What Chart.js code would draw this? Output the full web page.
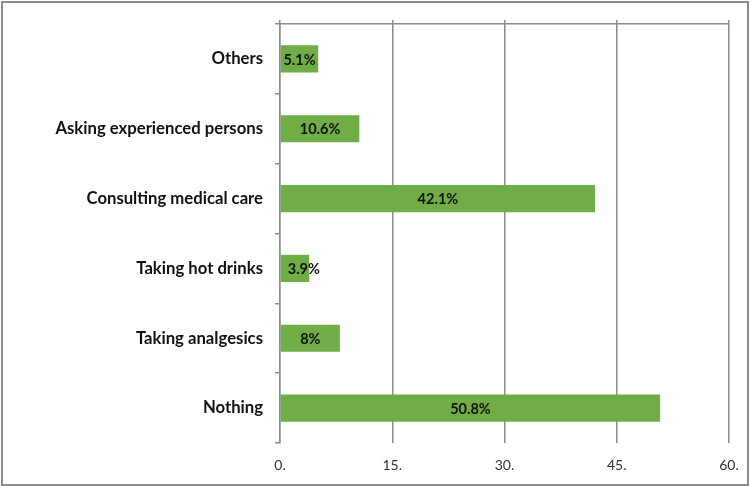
<!DOCTYPE html>
<html>
<head>
<meta charset="utf-8">
<script src="https://cdn.jsdelivr.net/npm/chart.js@4/dist/chart.umd.min.js"></script>
<style>
  html, body { margin: 0; padding: 0; background: #fff; }
  #wrap { position: relative; width: 750px; height: 486px; }
  #frame { position: absolute; left: 1px; top: 1px; width: 748px; height: 485px; box-sizing: border-box; border: 2px solid #8c8c8c; pointer-events: none; }
  canvas { position: absolute; left: 0; top: 0; }
</style>
</head>
<body>
<div id="wrap">
  <canvas id="c" width="750" height="486"></canvas>
  <div id="frame"></div>
</div>
<script>
const categories = ["Others", "Asking experienced persons", "Consulting medical care", "Taking hot drinks", "Taking analgesics", "Nothing"];
const values = [5.1, 10.6, 42.1, 3.9, 8, 50.8];
const valueLabels = ["5.1%", "10.6%", "42.1%", "3.9%", "8%", "50.8%"];
const xTicks = [0, 15, 30, 45, 60];

const GRID = '#8c8c8c';
const FONT = 'Lato, "Open Sans", sans-serif';

const barLabels = {
  id: 'barLabels',
  afterDatasetsDraw(chart) {
    const ctx = chart.ctx;
    const meta = chart.getDatasetMeta(0);
    ctx.save();
    ctx.font = 'bold 14.5px ' + FONT;
    ctx.fillStyle = '#111';
    ctx.textBaseline = 'middle';
    meta.data.forEach((bar, i) => {
      const p = bar.getProps(['x', 'y', 'base'], true);
      const text = valueLabels[i];
      const w = ctx.measureText(text).width;
      const barW = p.x - p.base;
      let x;
      if (w > barW) {
        ctx.textAlign = 'left';
        x = p.base + 7;
      } else {
        ctx.textAlign = 'center';
        x = (p.x + p.base) / 2;
      }
      ctx.fillText(text, x, p.y + 1);
    });
    ctx.restore();
  }
};

new Chart(document.getElementById('c'), {
  type: 'bar',
  data: {
    labels: categories,
    datasets: [{
      data: values,
      backgroundColor: '#70AD47',
      borderWidth: 0,
      categoryPercentage: 1,
      barPercentage: 0.39
    }]
  },
  options: {
    indexAxis: 'y',
    responsive: false,
    animation: false,
    layout: { padding: { left: 0, right: 21, top: 20, bottom: 0 } },
    plugins: { legend: { display: false }, tooltip: { enabled: false } },
    scales: {
      x: {
        position: 'bottom',
        min: 0, max: 60,
        afterBuildTicks: (s) => { s.ticks = xTicks.map(v => ({ value: v })); },
        ticks: {
          padding: 14,
          maxRotation: 0,
          color: '#333',
          font: { family: FONT, size: 14 },
          callback: (v) => v + '.'
        },
        grid: { color: GRID, lineWidth: 1.5, drawTicks: false },
        border: { display: false },
        afterFit: (s) => { s.height = 43; s.paddingLeft = 0; s.paddingRight = 0; }
      },
      x2: {
        position: 'top',
        min: 0, max: 60,
        afterBuildTicks: (s) => { s.ticks = xTicks.map(v => ({ value: v })); },
        ticks: { display: false },
        grid: { drawOnChartArea: false, drawTicks: true, tickLength: 4, color: GRID, lineWidth: 1.5 },
        border: { display: true, color: GRID, width: 1.5 },
        afterFit: (s) => { s.height = 4; s.paddingLeft = 0; s.paddingRight = 0; }
      },
      y: {
        ticks: {
          padding: 12,
          color: '#111',
          font: { family: FONT, size: 16.7, weight: 'bold' }
        },
        grid: { offset: true, drawOnChartArea: false, drawTicks: true, tickLength: 5, color: GRID, lineWidth: 1.5 },
        border: { display: true, color: GRID, width: 1.5 },
        afterFit: (s) => { s.width = 280; s.paddingTop = 0; s.paddingBottom = 0; }
      }
    }
  },
  plugins: [barLabels]
});
</script>
</body>
</html>
